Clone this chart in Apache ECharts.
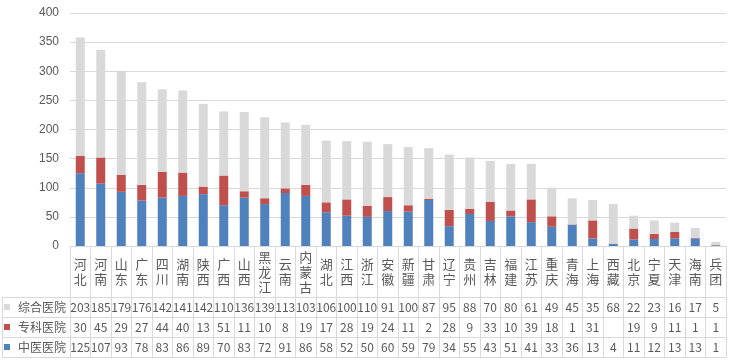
<!DOCTYPE html>
<html><head><meta charset="utf-8">
<script src="https://cdn.jsdelivr.net/npm/echarts@6/dist/echarts.min.js"></script>
<style>html,body{margin:0;padding:0;background:#fff}#c{width:739px;height:362px}</style>
</head><body><div id="c"></div>
<script>
var categories = ['河北','河南','山东','广东','四川','湖南','陕西','广西','山西','黑龙江','云南','内蒙古','湖北','江西','浙江','安徽','新疆','甘肃','辽宁','贵州','吉林','福建','江苏','重庆','青海','上海','西藏','北京','宁夏','天津','海南','兵团'];
var zonghe = [203,185,179,176,142,141,142,110,136,139,113,103,106,100,110,91,100,87,95,88,70,80,61,49,45,35,68,22,23,16,17,5];
var zhuanke = [30,45,29,27,44,40,13,51,11,10,8,19,17,28,19,24,11,2,28,9,33,10,39,18,1,31,null,19,9,11,1,1];
var zhongyi = [125,107,93,78,83,86,89,70,83,72,91,86,58,52,50,60,59,79,34,55,43,51,41,33,36,13,4,11,12,13,13,1];
var seriesNames = ['中医医院','专科医院','综合医院'];
var yTicks = {min:0, max:400, interval:50};

var lineC = '#d9d9d9', txtC = '#595959';
var chart = echarts.init(document.getElementById('c'));
var cjkFont = '"Noto Sans CJK SC", "Liberation Sans", sans-serif';

function rowAxis(offset, values, showLabel){
  return {
    type:'category', gridIndex:0, position:'bottom', offset:offset, data:categories,
    axisLine:{show:true, lineStyle:{color:lineC}},
    axisTick:{show:showLabel, length:20, interval:0, lineStyle:{color:lineC}},
    axisLabel:{show:showLabel, interval:0, margin:10, verticalAlign:'middle', fontSize:12,
      fontFamily:cjkFont, color:txtC,
      formatter:function(v, i){ var x = values ? values[i] : null; return x == null ? '' : String(x); }},
    splitLine:{show:false}
  };
}
function barData(arr){ return arr.map(function(v){ return v == null ? 0 : v; }); }

var option = {
  animation:false,
  color:['#4f81bd','#c0504d','#d9d9d9'],
  legend:{
    orient:'vertical', left:4, top:297, padding:0, itemGap:0,
    itemWidth:6, itemHeight:6, icon:'rect',
    data:['综合医院','专科医院','中医医院'],
    textStyle:{fontSize:12, lineHeight:20, color:txtC, fontFamily:cjkFont, padding:[0,0,0,3]}
  },
  grid:[
    {left:70, right:13, top:13, bottom:116},
    {left:2, width:68, top:297, height:60}
  ],
  xAxis:[
    {
      type:'category', gridIndex:0, data:categories,
      axisLine:{show:true, lineStyle:{color:lineC}},
      axisTick:{show:true, length:51, interval:0, lineStyle:{color:lineC}},
      axisLabel:{interval:0, margin:26, verticalAlign:'middle', fontSize:13, lineHeight:15,
        fontFamily:cjkFont, color:txtC,
        formatter:function(v){ return v.split('').join('\n'); }}
    },
    rowAxis(51, zonghe, true),
    rowAxis(71, zhuanke, true),
    rowAxis(91, zhongyi, true),
    rowAxis(111, null, false),
    {type:'value', gridIndex:1, show:false}
  ],
  yAxis:[
    {
      type:'value', gridIndex:0, min:yTicks.min, max:yTicks.max, interval:yTicks.interval,
      axisLine:{show:false}, axisTick:{show:false},
      axisLabel:{margin:11, fontSize:12, color:txtC, fontFamily:'"Liberation Sans", sans-serif'},
      splitLine:{lineStyle:{color:lineC}}
    },
    {
      type:'category', gridIndex:1, inverse:true, data:['综合医院','专科医院','中医医院'],
      axisLine:{show:true, lineStyle:{color:lineC}}, axisTick:{show:false},
      axisLabel:{show:false},
      splitLine:{show:true, interval:0, lineStyle:{color:lineC}}
    }
  ],
  series:[
    {name:seriesNames[0], type:'bar', stack:'a', data:barData(zhongyi), barWidth:9, xAxisIndex:0, yAxisIndex:0},
    {name:seriesNames[1], type:'bar', stack:'a', data:barData(zhuanke), barWidth:9, xAxisIndex:0, yAxisIndex:0},
    {name:seriesNames[2], type:'bar', stack:'a', data:barData(zonghe), barWidth:9, xAxisIndex:0, yAxisIndex:0}
  ]
};
chart.setOption(option);
</script></body></html>
